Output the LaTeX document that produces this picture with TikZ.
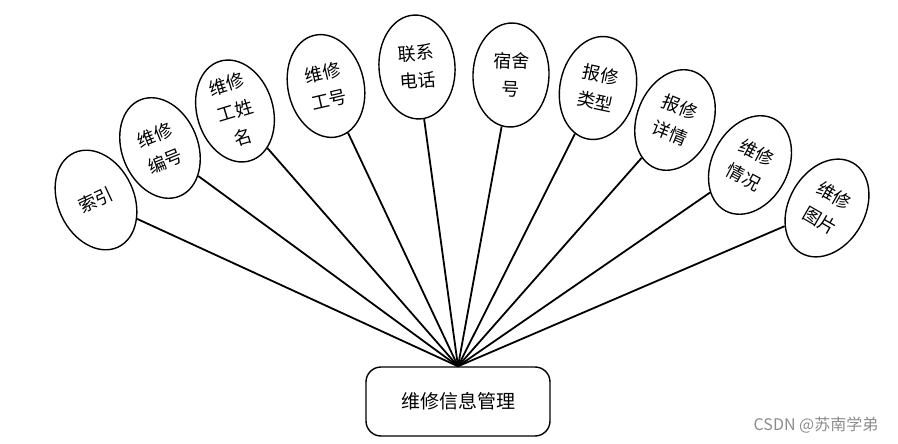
\documentclass[tikz,border=0pt]{standalone}
\usepackage{fontspec}
\setmainfont{Noto Sans CJK SC}
\usetikzlibrary{shapes.geometric}

\tikzset{
  attr/.style={ellipse, draw, line width=1.4pt, minimum width=76pt, minimum height=104pt,
    inner sep=0pt, align=center, font=\fontsize{18}{28}\selectfont},
  link/.style={line width=1.8pt},
  entbox/.style={draw, line width=1.4pt, rounded corners=15pt, minimum width=184pt,
    minimum height=69pt, font=\fontsize{19}{24}\selectfont}
}

\begin{document}
\begin{tikzpicture}[x=1pt,y=-1pt]
\useasboundingbox (0,0) rectangle (898,444);
\node[entbox] (box) at (458,401.5) {维修信息管理};
\node[attr, rotate=25] (a1) at (96,200) {索引};
\node[attr, rotate=22] (a2) at (160,148) {维修\\编号};
\node[attr, rotate=17] (a3) at (235,111) {维修\\工姓\\名};
\node[attr, rotate=13] (a4) at (326,86) {维修\\工号};
\node[attr, rotate=4] (a5) at (417,67) {联系\\电话};
\node[attr, rotate=-2] (a6) at (511,75) {宿舍\\号};
\node[attr, rotate=-12] (a7) at (598,88) {报修\\类型};
\node[attr, rotate=-22] (a8) at (675,120) {报修\\详情};
\node[attr, rotate=-28] (a9) at (750,165) {维修\\情况};
\node[attr, rotate=-30] (a10) at (827,208) {维修\\图片};
\foreach \i in {1,...,10}
  \draw[link] (a\i) -- (box.north);
\node[text=black!45, font=\fontsize{16}{18}\selectfont] (mark) at (816,425) {CSDN @苏南学弟};
\end{tikzpicture}
\end{document}
